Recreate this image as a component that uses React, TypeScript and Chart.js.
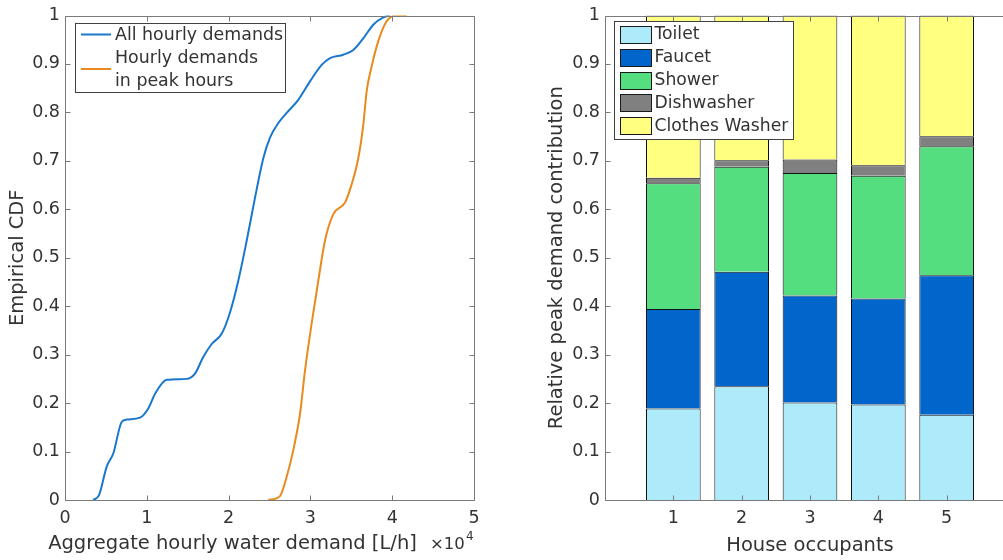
import React, { useEffect, useRef } from "react";
import { Chart, registerables } from "chart.js";

Chart.register(...registerables);

const FONT = "'DejaVu Sans', Verdana, sans-serif";
const TEXT = "#333333";
const AXIS = "#7a7a7a";
const LEGEND_EDGE = "#404040";

// ---------- Left panel: empirical CDFs (x in L/h) ----------
const allHourlyX = [3460, 4160, 5100, 5900, 6930, 7540, 9170, 10180, 11000, 12430, 14880, 15890, 16900, 17930, 19150, 20170, 21190, 22210, 23230, 24250, 25060, 26080, 27100, 28520, 29950, 31380, 32400, 34020, 35250, 36470, 37690, 38910, 39700];
const allHourlyY = [0, 0.01, 0.069, 0.096, 0.161, 0.166, 0.17, 0.189, 0.219, 0.248, 0.25, 0.261, 0.295, 0.322, 0.343, 0.387, 0.453, 0.535, 0.624, 0.706, 0.748, 0.778, 0.799, 0.826, 0.864, 0.898, 0.912, 0.919, 0.929, 0.953, 0.981, 0.996, 1.0];
const peakX = [24860, 26280, 27100, 27910, 28730, 29340, 30150, 30970, 31780, 32800, 34230, 35050, 35860, 36470, 36880, 37490, 38300, 39320, 40550, 41770];
const peakY = [0, 0.008, 0.048, 0.103, 0.178, 0.267, 0.364, 0.453, 0.535, 0.59, 0.614, 0.652, 0.706, 0.775, 0.844, 0.895, 0.947, 0.988, 1.0, 1.0];
const cdfSeriesNames = ["All hourly demands", ["Hourly demands", "in peak hours"]];

// ---------- Right panel: stacked contributions ----------
const occupants = [1, 2, 3, 4, 5];
const toilet = [0.189, 0.235, 0.201, 0.197, 0.176];
const faucet = [0.205, 0.236, 0.221, 0.219, 0.288];
const shower = [0.26, 0.217, 0.253, 0.253, 0.266];
const dishwasher = [0.011, 0.013, 0.028, 0.022, 0.021];
const clothesWasher = [0.335, 0.299, 0.297, 0.309, 0.249];
const applianceNames = ["Toilet", "Faucet", "Shower", "Dishwasher", "Clothes Washer"];
const applianceColors = ["#ADEBFB", "#0066CC", "#55DE80", "#808080", "#FFFF80"];

const BLUE = "#1A78CC";
const ORANGE = "#E98A1C";

function framePlugin(xFilter: (v: number) => boolean) {
  return {
    id: "frame",
    afterDatasetsDraw(chart: any) {
      const { ctx, chartArea: a } = chart;
      const xs = chart.scales.x;
      const ys = chart.scales.y;
      const L = Math.round(a.left) + 0.5;
      const R = Math.round(a.right) + 0.5;
      const T = Math.round(a.top) + 0.5;
      const B = Math.round(a.bottom) + 0.5;
      const tl = 5;
      ctx.save();
      ctx.strokeStyle = AXIS;
      ctx.lineWidth = 1;
      ctx.beginPath();
      ctx.moveTo(L, T);
      ctx.lineTo(R, T);
      ctx.lineTo(R, B);
      ctx.lineTo(L, B);
      ctx.closePath();
      for (const t of xs.ticks) {
        if (!xFilter(t.value)) continue;
        const px = Math.round(xs.getPixelForValue(t.value)) + 0.5;
        ctx.moveTo(px, B);
        ctx.lineTo(px, B - tl);
        ctx.moveTo(px, T);
        ctx.lineTo(px, T + tl);
      }
      for (const t of ys.ticks) {
        const py = Math.round(ys.getPixelForValue(t.value)) + 0.5;
        ctx.moveTo(L, py);
        ctx.lineTo(L + tl, py);
        ctx.moveTo(R, py);
        ctx.lineTo(R - tl, py);
      }
      ctx.stroke();
      ctx.restore();
    },
  };
}

const leftExtras = {
  id: "leftExtras",
  afterDraw(chart: any) {
    const { ctx } = chart;
    ctx.save();
    // legend
    ctx.fillStyle = "#ffffff";
    ctx.strokeStyle = LEGEND_EDGE;
    ctx.lineWidth = 1;
    ctx.fillRect(75.5, 23.5, 210, 69);
    ctx.strokeRect(75.5, 23.5, 210, 69);
    ctx.lineWidth = 2;
    ctx.strokeStyle = BLUE;
    ctx.beginPath();
    ctx.moveTo(81, 34.5);
    ctx.lineTo(111, 34.5);
    ctx.stroke();
    ctx.strokeStyle = ORANGE;
    ctx.beginPath();
    ctx.moveTo(81, 69);
    ctx.lineTo(111, 69);
    ctx.stroke();
    ctx.fillStyle = TEXT;
    ctx.font = `17.4px ${FONT}`;
    ctx.textBaseline = "middle";
    ctx.textAlign = "left";
    ctx.fillText(cdfSeriesNames[0] as string, 115, 35.5);
    const second = cdfSeriesNames[1] as string[];
    ctx.fillText(second[0], 115, 58.5);
    ctx.fillText(second[1], 115, 81);
    // x title
    ctx.font = `19.5px ${FONT}`;
    ctx.textAlign = "center";
    ctx.fillText("Aggregate hourly water demand [L/h]", 232.5, 543.5);
    // exponent
    ctx.textAlign = "left";
    ctx.font = `16.5px ${FONT}`;
    ctx.fillText("\u00d710", 430, 545);
    ctx.font = `12px ${FONT}`;
    ctx.fillText("4", 466, 537);
    ctx.restore();
  },
};

const rightExtras = {
  id: "rightExtras",
  afterDraw(chart: any) {
    const { ctx } = chart;
    ctx.save();
    ctx.fillStyle = "#ffffff";
    ctx.strokeStyle = LEGEND_EDGE;
    ctx.lineWidth = 1;
    ctx.fillRect(74.5, 21.5, 179, 118);
    ctx.strokeRect(74.5, 21.5, 179, 118);
    ctx.font = `17.2px ${FONT}`;
    ctx.textBaseline = "middle";
    ctx.textAlign = "left";
    applianceNames.forEach((name, i) => {
      const cy = 34.3 + i * 22.9;
      ctx.fillStyle = applianceColors[i];
      ctx.fillRect(80.5, Math.round(cy - 8.5) + 0.5, 31, 17);
      ctx.strokeStyle = "#1a1a1a";
      ctx.strokeRect(80.5, Math.round(cy - 8.5) + 0.5, 31, 17);
      ctx.fillStyle = TEXT;
      ctx.fillText(name, 114.5, cy + 0.5);
    });
    ctx.restore();
  },
};

const tickFont = { family: FONT, size: 17.5 };
const titleFont = { family: FONT, size: 19.5 };

function LeftChart() {
  const ref = useRef<HTMLCanvasElement | null>(null);
  useEffect(() => {
    if (!ref.current) return;
    const chart = new Chart(ref.current, {
      type: "line",
      data: {
        datasets: [
          {
            data: allHourlyX.map((x, i) => ({ x, y: allHourlyY[i] })),
            borderColor: BLUE,
            borderWidth: 2,
            pointRadius: 0,
            cubicInterpolationMode: "monotone",
          },
          {
            data: peakX.map((x, i) => ({ x, y: peakY[i] })),
            borderColor: ORANGE,
            borderWidth: 2,
            pointRadius: 0,
            cubicInterpolationMode: "monotone",
          },
        ],
      },
      options: {
        animation: false,
        responsive: false,
        layout: { padding: { top: 14, right: 46, left: 0, bottom: 0 } },
        plugins: { legend: { display: false }, tooltip: { enabled: false } },
        scales: {
          x: {
            type: "linear",
            min: 0,
            max: 50000,
            ticks: {
              stepSize: 10000,
              color: TEXT,
              font: tickFont,
              padding: 8,
              maxRotation: 0,
              callback: (v: any) => String(Number(v) / 10000),
            },
            grid: { display: false, drawTicks: false },
            border: { display: false },
            afterFit: (s: any) => {
              s.height = 60;
            },
          },
          y: {
            type: "linear",
            min: 0,
            max: 1,
            ticks: {
              stepSize: 0.1,
              color: TEXT,
              font: tickFont,
              padding: 5,
              callback: (v: any) => String(Number(Number(v).toFixed(1))),
            },
            grid: { display: false, drawTicks: false },
            border: { display: false },
            title: { display: true, text: "Empirical CDF", color: TEXT, font: titleFont, padding: { top: 6.6, bottom: 0 } },
            afterFit: (s: any) => {
              s.width = 65;
            },
          },
        },
      },
      plugins: [framePlugin(() => true), leftExtras],
    } as any);
    return () => chart.destroy();
  }, []);
  return <canvas ref={ref} width={520} height={560} style={{ position: "absolute", left: 0, top: 0, width: 520, height: 560 }} />;
}

function RightChart() {
  const ref = useRef<HTMLCanvasElement | null>(null);
  useEffect(() => {
    if (!ref.current) return;
    const series = [toilet, faucet, shower, dishwasher, clothesWasher];
    const chart = new Chart(ref.current, {
      type: "bar",
      data: {
        datasets: series.map((vals, k) => ({
          label: applianceNames[k],
          data: occupants.map((o, i) => ({ x: o, y: vals[i] })),
          backgroundColor: applianceColors[k],
          borderColor: "#111111",
          borderWidth: 1,
          borderSkipped: "start",
          barPercentage: 0.8,
          categoryPercentage: 1,
        })),
      },
      options: {
        animation: false,
        responsive: false,
        layout: { padding: { top: 14, right: 25, left: 0, bottom: 0 } },
        plugins: { legend: { display: false }, tooltip: { enabled: false } },
        scales: {
          x: {
            type: "linear",
            stacked: true,
            offset: false,
            min: 0,
            max: 6,
            ticks: {
              stepSize: 1,
              color: TEXT,
              font: tickFont,
              padding: 8,
              maxRotation: 0,
              callback: (v: any) => (occupants.includes(Number(v)) ? String(v) : ""),
            },
            grid: { display: false, drawTicks: false, offset: false },
            border: { display: false },
            title: { display: true, text: "House occupants", color: TEXT, font: titleFont, padding: { top: 0, bottom: 2.3 } },
            afterFit: (s: any) => {
              s.height = 60;
            },
          },
          y: {
            type: "linear",
            stacked: true,
            min: 0,
            max: 1,
            ticks: {
              stepSize: 0.1,
              color: TEXT,
              font: tickFont,
              padding: 5,
              callback: (v: any) => String(Number(Number(v).toFixed(1))),
            },
            grid: { display: false, drawTicks: false },
            border: { display: false },
            title: {
              display: true,
              text: "Relative peak demand contribution",
              color: TEXT,
              font: titleFont,
              padding: { top: 5, bottom: 0 },
            },
            afterFit: (s: any) => {
              s.width = 65;
            },
          },
        },
      },
      plugins: [framePlugin((v: number) => occupants.includes(v)), rightExtras],
    } as any);
    return () => chart.destroy();
  }, []);
  return <canvas ref={ref} width={500} height={560} style={{ position: "absolute", left: 540, top: 0, width: 500, height: 560 }} />;
}

export default function App() {
  return (
    <div
      style={{
        position: "fixed",
        left: 0,
        top: 0,
        width: 1003,
        height: 560,
        overflow: "hidden",
        background: "#ffffff",
      }}
    >
      <LeftChart />
      <RightChart />
    </div>
  );
}
